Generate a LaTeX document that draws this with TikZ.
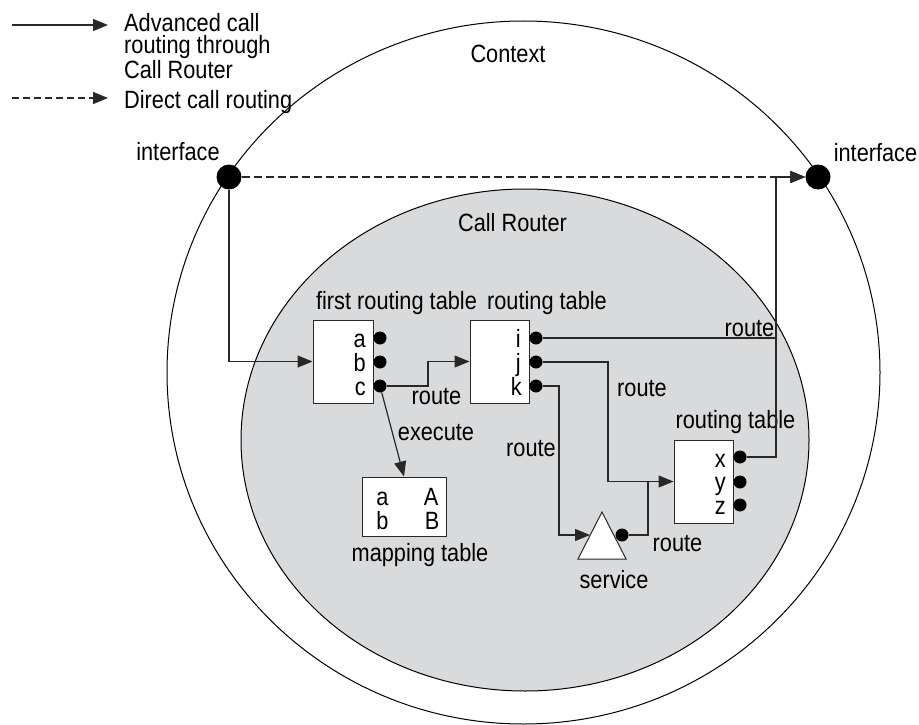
\documentclass[tikz,border=0pt]{standalone}
\usepackage{fontspec}
\setmainfont{Liberation Sans}[FakeStretch=0.87]
\usetikzlibrary{arrows.meta,shapes.geometric}
\definecolor{routergrey}{RGB}{217,218,219}
\definecolor{lineink}{RGB}{40,40,40}
\begin{document}
\begin{tikzpicture}[x=1pt,y=-1pt,
  font=\fontsize{25pt}{27pt}\selectfont,
  conn/.style={draw=lineink, line width=1.2pt},
  arr/.style={conn, -{Triangle[length=15pt,width=12pt]}},
  dashconn/.style={conn, dash pattern=on 8pt off 4pt, -{Triangle[length=15pt,width=12pt]}},
  tablebox/.style={draw=lineink, fill=white, line width=1pt, inner sep=0pt},
  port/.style={circle, fill=black, inner sep=0pt, minimum size=13pt},
  iface/.style={circle, fill=black, inner sep=0pt, minimum size=25pt},
  lbl/.style={anchor=base, inner sep=0pt},
  lble/.style={anchor=base east, inner sep=0pt},
  lblw/.style={anchor=base west, inner sep=0pt}
]
\useasboundingbox (0,0) rectangle (919,725);

% circles
\node[ellipse, draw=black, line width=1pt, minimum width=713pt, minimum height=703pt, inner sep=0pt] (context) at (523.5,372.5) {};
\node[ellipse, draw=black, line width=1pt, fill=routergrey, minimum width=568pt, minimum height=502pt, inner sep=0pt] (router) at (525,440) {};

% legend
\coordinate (lgs1) at (12,25);
\coordinate (lge1) at (108,25);
\coordinate (lgs2) at (12,98);
\coordinate (lge2) at (108,98);
\draw[arr] (lgs1) -- (lge1);
\draw[dashconn, dash pattern=on 7pt off 4pt] (lgs2) -- (lge2);
\node[anchor=north west, align=left, inner sep=0pt, font=\fontsize{25pt}{22.5pt}\selectfont] (lgt1) at (124,13) {Advanced call\\routing through\\Call Router};
\node[lblw] (lgt4) at (124,108) {Direct call routing};

% titles
\node[lbl] (ctxlbl) at (508,63) {Context};
\node[lbl] (crlbl) at (512.5,231) {Call Router};

% interfaces
\node[iface] (ifl) at (229,177) {};
\node[iface] (ifr) at (818,177) {};
\node[lbl] (ifllbl) at (178,160) {interface};
\node[lbl] (ifrlbl) at (875.5,161) {interface};

% tables
\node[tablebox, minimum width=60pt, minimum height=83pt] (t1) at (343,361.5) {};
\node[tablebox, minimum width=59pt, minimum height=83pt] (t2) at (499.5,361.5) {};
\node[tablebox, minimum width=59pt, minimum height=83pt] (t3) at (703.5,481.5) {};
\node[tablebox, minimum width=84pt, minimum height=59pt] (map) at (404,506.5) {};

\node[lbl] (t1lbl) at (396.5,309) {first routing table};
\node[lbl] (t2lbl) at (547,309) {routing table};
\node[lbl] (t3lbl) at (735.5,428) {routing table};
\node[lbl] (maplbl) at (420,561) {mapping table};

% table entries
\node[lble] (ea) at (366,347.5) {a};
\node[lble] (eb) at (366,371.5) {b};
\node[lble] (ec) at (366,395) {c};
\node[lble] (ei) at (521,347.5) {i};
\node[lble] (ej) at (521,371.5) {j};
\node[lble] (ek) at (522,395) {k};
\node[lble] (ex) at (726,467) {x};
\node[lble] (ey) at (726,490.5) {y};
\node[lble] (ez) at (726,514) {z};
\node[lbl] (ma) at (382.5,505) {a};
\node[lbl] (mA) at (431,505) {A};
\node[lbl] (mb) at (382.5,529) {b};
\node[lbl] (mB) at (432,529) {B};

% ports
\node[port] (pa) at (380,338) {};
\node[port] (pb) at (380,362) {};
\node[port] (pc) at (380,386) {};
\node[port] (pi) at (536,338) {};
\node[port] (pj) at (536,362) {};
\node[port] (pk) at (536,386) {};
\node[port] (px) at (740,457) {};
\node[port] (py) at (740,482) {};
\node[port] (pz) at (740,505) {};

% service
\draw[draw=lineink, line width=1pt, fill=white] (578,559) -- (602,512) -- (626,559) -- cycle;
\coordinate (svcin) at (590,535);
\node[port] (psvc) at (622,535) {};
\node[lbl] (svclbl) at (614,588) {service};

% connectors
\coordinate (rtop) at (776,177);
\coordinate (join) at (648,481.5);
\draw[dashconn] (ifl) -- (ifr);
\draw[arr] (ifl) |- (t1.west);
\draw[arr] (pc) -- ([xshift=48pt]pc.center) |- (t2.west);
\draw[arr] (pc) -- (map.north);
\draw[arr] (pj) -- ([xshift=72pt]pj.center) |- (t3.west);
\draw[arr] (pk) -- ([xshift=23pt]pk.center) |- (svcin);
\draw[conn] (psvc) -| (join);
\draw[conn] (pi) -- (pi -| rtop);
\draw[arr] (px) -| (rtop) -- (ifr);

% connector labels
\node[lbl] (r1) at (436.5,404) {route};
\node[lbl] (r2) at (749.5,336) {route};
\node[lbl] (r3) at (642,396) {route};
\node[lbl] (r4) at (531,456) {route};
\node[lbl] (r5) at (677.5,551) {route};
\node[lbl] (exlbl) at (436,440) {execute};
\end{tikzpicture}
\end{document}
